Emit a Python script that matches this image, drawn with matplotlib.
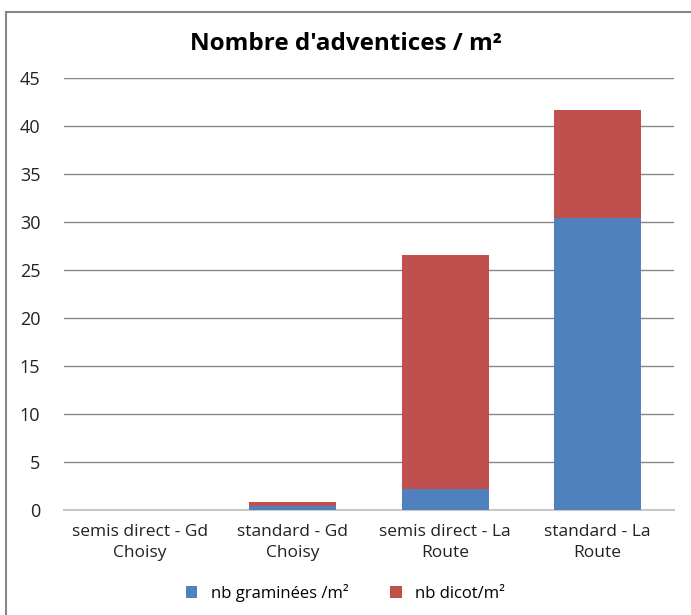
import matplotlib

matplotlib.use("Agg")
import matplotlib.pyplot as plt
import numpy as np
from matplotlib.patches import Rectangle

categories = ["semis direct - Gd\nChoisy", "standard - Gd\nChoisy",
              "semis direct - La\nRoute", "standard - La\nRoute"]
graminees = [0.0, 0.45, 2.2, 30.4]
dicot = [0.0, 0.4, 24.4, 11.3]

plt.rcParams["font.family"] = ["Open Sans", "DejaVu Sans"]

fig = plt.figure(figsize=(6.91, 6.15), dpi=100)
ax = fig.add_axes([0.0926, 0.1707, 0.8824, 0.7023])

x = np.arange(len(categories))
ax.bar(x, graminees, width=0.57, color="#4f81bd", label="nb graminées /m²", zorder=3)
ax.bar(x, dicot, width=0.57, bottom=graminees, color="#c0504d", label="nb dicot/m²", zorder=3)

ax.set_xlim(-0.5, 3.5)
ax.set_ylim(0, 45)
ax.set_yticks(range(0, 46, 5))
ax.set_xticks(x)
ax.set_xticklabels(categories, fontsize=12.5, color="#222222", linespacing=1.45)
ax.tick_params(axis="y", labelsize=13, length=0, pad=17, labelcolor="#222222")
ax.tick_params(axis="x", length=0, pad=10)
ax.grid(axis="y", color="#868686", linewidth=1, zorder=0)
for s in ["top", "right", "left"]:
    ax.spines[s].set_visible(False)
ax.spines["bottom"].set_color("#c8c8c8")
ax.spines["bottom"].set_linewidth(1.5)

fig.text(0.5, 0.928, "Nombre d'adventices / m²", ha="center", va="center",
         fontsize=17.5, fontweight="bold")

fig.legend(loc="lower center", bbox_to_anchor=(0.5, -0.003), ncol=2, frameon=False,
           fontsize=12, handlelength=0.7, handleheight=0.7, columnspacing=2.5)

fig.patches.append(Rectangle((6 / 691, -0.01), 1.0, 1 - 12 / 615 + 0.01,
                             transform=fig.transFigure, fill=False,
                             edgecolor="#868686", linewidth=1.5))

fig.savefig("out.png", dpi=100)
